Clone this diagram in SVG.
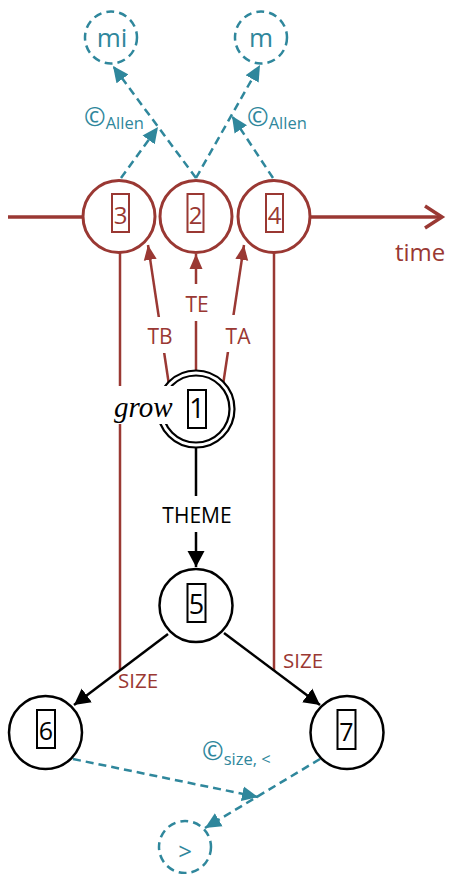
<svg xmlns="http://www.w3.org/2000/svg" width="450" height="874" viewBox="0 0 450 874">
<style>
.red{stroke:#9a3833;fill:none;stroke-width:2.5}
.blk{stroke:#000;fill:none;stroke-width:2.5}
.teal{stroke:#2f879c;fill:none;stroke-width:2.5;stroke-dasharray:8 5}
text{font-family:"Open Sans","Noto Sans",sans-serif}
text.serif{font-family:"Liberation Serif","DejaVu Serif",serif;font-style:italic}
.tr{fill:#9a3833}
.tt{fill:#2f879c}
.tk{fill:#000}
.bg{fill:#fff;stroke:none}
.tc{stroke:#9a3833;stroke-width:3;fill:#fff}
.bc{stroke:#000;stroke-width:2.5;fill:#fff}
.dc{stroke:#2f879c;stroke-width:2.5;fill:#fff;stroke-dasharray:8 5}
.rbox{fill:none;stroke:#9a3833;stroke-width:2}
.kbox{fill:none;stroke:#000;stroke-width:2}
.mid{text-anchor:middle}
</style>
<defs>
<marker id="ar" markerUnits="userSpaceOnUse" markerWidth="16" markerHeight="14" refX="15" refY="7" orient="auto"><path d="M0,0.5 L15,7 L0,13.5 Z" fill="#9a3833"/></marker>
<marker id="ab" markerUnits="userSpaceOnUse" markerWidth="17" markerHeight="18" refX="16" refY="9" orient="auto"><path d="M0,0.5 L16,9 L0,17.5 Z" fill="#000"/></marker>
<marker id="at" markerUnits="userSpaceOnUse" markerWidth="17" markerHeight="16" refX="16" refY="8" orient="auto"><path d="M0,0.5 L16,8 L0,15.5 Z" fill="#2f879c"/></marker>
</defs>

<g id="connectors">
  <!-- time axis -->
  <path class="red" style="stroke-width:3.5" d="M8,217 H83"/>
  <path class="red" style="stroke-width:3.5" d="M311,217 H441"/>
  <polyline class="red" style="stroke-width:3.5;stroke-linejoin:miter" points="425,206 442,217 425,228"/>
  <!-- SIZE verticals -->
  <path class="red" d="M120,253 V670"/>
  <path class="red" d="M274,253 V671"/>
  <!-- TB TE TA -->
  <path class="red" d="M169,385 L148,245" marker-end="url(#ar)"/>
  <path class="red" d="M196,371 V254" marker-end="url(#ar)"/>
  <path class="red" d="M223,385 L244,245" marker-end="url(#ar)"/>
  <rect class="bg" x="146" y="317" width="28" height="36"/>
  <rect class="bg" x="183" y="284" width="28" height="37"/>
  <rect class="bg" x="224" y="315" width="28" height="37"/>
  <text class="tr mid" x="160" y="344" font-size="21">TB</text>
  <text class="tr mid" x="197" y="312" font-size="21">TE</text>
  <text class="tr mid" x="238" y="344" font-size="21">TA</text>
  <!-- THEME -->
  <path class="blk" d="M196,447 V567" marker-end="url(#ab)"/>
  <rect class="bg" x="160" y="496" width="76" height="36"/>
  <text class="tk mid" x="197" y="523" font-size="21">THEME</text>
  <!-- 5 to 6, 5 to 7 -->
  <path class="blk" d="M168,634 L74,705" marker-end="url(#ab)"/>
  <path class="blk" d="M224,633 L320,705" marker-end="url(#ab)"/>
  <text class="tr" x="118" y="688" font-size="20.5">SIZE</text>
  <text class="tr" x="283" y="668" font-size="20.5">SIZE</text>
  <!-- Allen relations -->
  <path class="teal" d="M196,178 L113,66" marker-end="url(#at)"/>
  <path class="teal" d="M196,178 L260,65" marker-end="url(#at)"/>
  <path class="teal" d="M121,178 L158,127" marker-end="url(#at)"/>
  <path class="teal" d="M273,178 L232,116" marker-end="url(#at)"/>
  <text class="tt" x="84" y="126"><tspan font-size="26">©</tspan><tspan font-size="16.5" dy="3">Allen</tspan></text>
  <text class="tt" x="247" y="126"><tspan font-size="26">©</tspan><tspan font-size="16.5" dy="3">Allen</tspan></text>
  <!-- size comparison -->
  <path class="teal" d="M73,759 L258,797" marker-end="url(#at)"/>
  <path class="teal" d="M320,759 L205,828" marker-end="url(#at)"/>
  <text class="tt" x="202" y="760"><tspan font-size="26">©</tspan><tspan font-size="16.5" dy="5">size, &lt;</tspan></text>
  <text class="tr" x="395" y="261" font-size="24">time</text>
</g>

<g id="node-mi">
  <circle class="dc" cx="111" cy="37.5" r="26"/>
  <text class="tt mid" x="112" y="47" font-size="26">mi</text>
</g>
<g id="node-m">
  <circle class="dc" cx="261" cy="37.5" r="26"/>
  <text class="tt mid" x="261" y="47" font-size="26">m</text>
</g>
<g id="node-3">
  <circle class="tc" cx="119" cy="216.5" r="36"/>
  <rect class="rbox" x="112" y="194" width="17" height="38"/>
  <text class="tr mid" x="120.5" y="223.5" font-size="24">3</text>
</g>
<g id="node-2">
  <circle class="tc" cx="196" cy="216.5" r="36"/>
  <rect class="rbox" x="187.5" y="194" width="16" height="38"/>
  <text class="tr mid" x="195.5" y="223.5" font-size="24">2</text>
</g>
<g id="node-4">
  <circle class="tc" cx="274" cy="216.5" r="36"/>
  <rect class="rbox" x="266" y="194" width="17" height="38"/>
  <text class="tr mid" x="274.5" y="223.5" font-size="24">4</text>
</g>
<g id="node-1">
  <circle cx="196" cy="409" r="38.5" fill="#fff" stroke="#000" stroke-width="2.2"/>
  <circle cx="196" cy="409" r="33.5" fill="none" stroke="#000" stroke-width="2.2"/>
  <rect class="kbox" x="188" y="390" width="18" height="38"/>
  <text class="tk mid" x="197" y="418" font-size="27">1</text>
  <rect class="bg" x="112" y="386" width="63" height="38"/>
  <text class="serif tk" x="114" y="417" font-size="29">grow</text>
</g>
<g id="node-5">
  <circle class="bc" cx="196" cy="605.5" r="36.5"/>
  <rect class="kbox" x="187.5" y="584" width="18" height="38"/>
  <text class="tk mid" x="196.5" y="614" font-size="27">5</text>
</g>
<g id="node-6">
  <circle class="bc" cx="45.5" cy="732.5" r="36.5"/>
  <rect class="kbox" x="37" y="710" width="18" height="38"/>
  <text class="tk mid" x="46" y="740" font-size="25">6</text>
</g>
<g id="node-7">
  <circle class="bc" cx="347" cy="732.5" r="36.5"/>
  <rect class="kbox" x="337.5" y="710" width="18" height="39"/>
  <text class="tk mid" x="346.5" y="741" font-size="25">7</text>
</g>
<g id="node-gt">
  <circle class="dc" cx="185" cy="847" r="26"/>
  <text class="tt mid" x="185" y="860" font-size="24">&gt;</text>
</g>
</svg>
